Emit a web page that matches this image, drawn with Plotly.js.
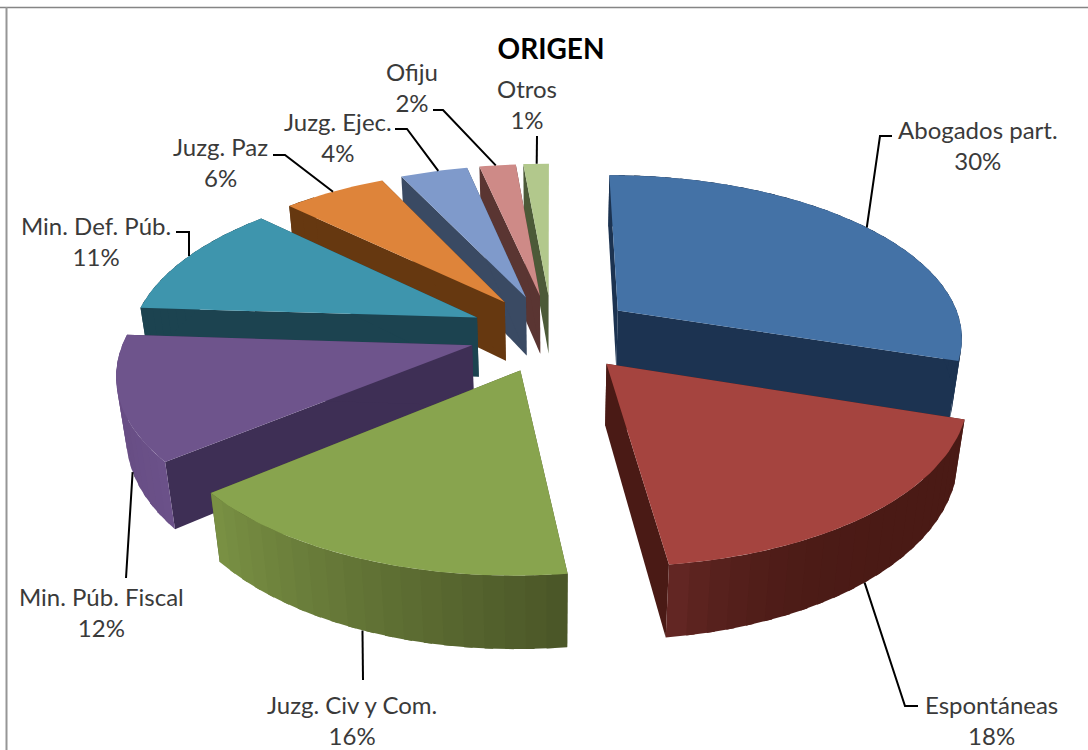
<!DOCTYPE html>
<html><head><meta charset="utf-8">
<script src="https://cdn.plot.ly/plotly-3.0.1.min.js"></script>
<style>html,body{margin:0;padding:0;background:#fff}#c{width:1088px;height:750px}</style>
</head><body><div id="c"></div>
<script>
const categories = ["Abogados part.","Espontáneas","Juzg. Civ y Com.","Min. Púb. Fiscal","Min. Def. Púb.","Juzg. Paz","Juzg. Ejec.","Ofiju","Otros"];
const values = [30,18,16,12,11.2,5.7,3.7,2,1.4];
const topColors = ["#4472A6","#A5443F","#88A44E","#6E548C","#3E95AD","#DE843A","#7F9ACB","#CE8A87","#B2C88C"];
const radialColors = ["#1C3351","#4A1A15","#4A5527","#3E2F55","#1C4350","#663810","#3A4A63","#5A3532","#4C5A38"];
const wallStart = ["#1C3351","#4A1A15","#4A5527","#6B5189","#1C4350","#663810","#3A4A63","#5A3532","#4C5A38"];
const wallEnd = ["#1C3351","#652825","#7A9244","#64497F","#1C4350","#663810","#3A4A63","#5A3532","#4C5A38"];
const wallPower = [1,6,1,1,1,1,1,1,1];
const drawOrder = [8,7,6,5,4,0,3,1,2];
const labelCenters = [[978,145],[991,720],[352,720],[101,612],[96,241],[220,162],[338,137],[412,87],[527,104]];
const leaderElbows = [[[880,136],[892,136]],[[905,706],[918,706]],[[363,680]],[[126,578]],[[189,232],[176,232]],[[285,155],[273,155]],[[407,129],[395,129]],[[443,110],[433,110]],[[537,136]]];
const leaderAngle = [54.5,140,202.2,249,294.5,324,342,351,357.6];
const leaderBottom = [false,true,true,true,false,false,false,false,false];

const cx=552, cy=333, sx=346, sy=162, persp=0.15, explode=0.24, depth=60, conv=0.00038;
const rad=d=>d*Math.PI/180;
function proj(X,Y){const w=1+persp*Y;return {x:cx+sx*X/w,y:cy-sy*Y/w,w};}
function pt(mid,ang,r,low){
  const X=explode*Math.sin(rad(mid))+r*Math.sin(rad(ang));
  const Y=explode*Math.cos(rad(mid))+r*Math.cos(rad(ang));
  const p=proj(X,Y);
  if(!low) return [p.x,p.y];
  const d=depth/p.w;
  return [p.x-(p.x-cx)*conv*d,p.y+d];
}
function hexMix(a,b,t){
  const n=s=>[1,3,5].map(i=>parseInt(s.substr(i,2),16));
  const A=n(a),B=n(b);
  return 'rgb('+A.map((v,i)=>Math.round(v+(B[i]-v)*t)).join(',')+')';
}
function poly(points,color){
  return {type:'scatter',mode:'lines',x:points.map(p=>p[0]),y:points.map(p=>p[1]),fill:'toself',fillcolor:color,
    line:{width:0},hoverinfo:'skip',showlegend:false};
}
const total=values.reduce((a,b)=>a+b,0);
let cum=0; const spans=values.map(v=>{const s=cum/total*360;cum+=v;return [s,cum/total*360];});
const traces=[];
drawOrder.forEach(i=>{
  const [a0,a1]=spans[i], mid=(a0+a1)/2;
  [a0,a1].forEach(a=>traces.push(poly([pt(mid,a,0,false),pt(mid,a,1,false),pt(mid,a,1,true),pt(mid,a,0,true)],radialColors[i])));
  const n=Math.max(1,Math.ceil((a1-a0)/3));
  for(let k=n-1;k>=0;k--){
    const u=a0+(a1-a0)*k/n,v=a0+(a1-a0)*(k+1)/n;
    if(Math.cos(rad(u))>0.75&&Math.cos(rad(v))>0.75&&i>0) continue;
    const ext=Math.max(a0,u-1.2), strip=[];
    for(let q=0;q<=2;q++) strip.push(pt(mid,ext+(v-ext)*q/2,1,false));
    for(let q=2;q>=0;q--) strip.push(pt(mid,ext+(v-ext)*q/2,1,true));
    traces.push(poly(strip,hexMix(wallStart[i],wallEnd[i],Math.pow((k+.5)/n,wallPower[i]))));
  }
  const top=[pt(mid,a0,0,false)];
  for(let k=0;k<=n*2;k++) top.push(pt(mid,a0+(a1-a0)*k/(n*2),1,false));
  traces.push(poly(top,topColors[i]));
});
categories.forEach((c,i)=>{
  const mid=(spans[i][0]+spans[i][1])/2;
  const s=pt(mid,leaderAngle[i],1,leaderBottom[i]);
  const pts=[s].concat(leaderElbows[i]);
  traces.push({type:'scatter',mode:'lines',x:pts.map(p=>p[0]),y:pts.map(p=>p[1]),line:{color:'#000',width:2},hoverinfo:'skip',showlegend:false});
});
const annotations=categories.map((c,i)=>({xref:'x',yref:'y',x:labelCenters[i][0],y:labelCenters[i][1],showarrow:false,
  text:c+'<br>'+Math.round(values[i])+'%',align:'center',font:{family:'Lato',size:24,color:'#3a3a3a'}}));
const layout={width:1088,height:750,margin:{l:0,r:0,t:0,b:0},paper_bgcolor:'#fff',plot_bgcolor:'#fff',showlegend:false,
  title:{text:'<b>ORIGEN</b>',x:551/1088,xanchor:'center',y:1-49/750,yanchor:'middle',font:{family:'Lato',size:28,color:'#000'}},
  xaxis:{range:[0,1088],visible:false,fixedrange:true},
  yaxis:{range:[750,0],visible:false,fixedrange:true},
  annotations,
  shapes:[{type:'line',xref:'x',yref:'y',x0:0,x1:1088,y0:7.5,y1:7.5,line:{color:'#858585',width:1.5}},
          {type:'line',xref:'x',yref:'y',x0:6.5,x1:6.5,y0:7,y1:750,line:{color:'#969696',width:2}}]};
Plotly.newPlot('c',traces,layout,{displayModeBar:false,staticPlot:true});
</script></body></html>
